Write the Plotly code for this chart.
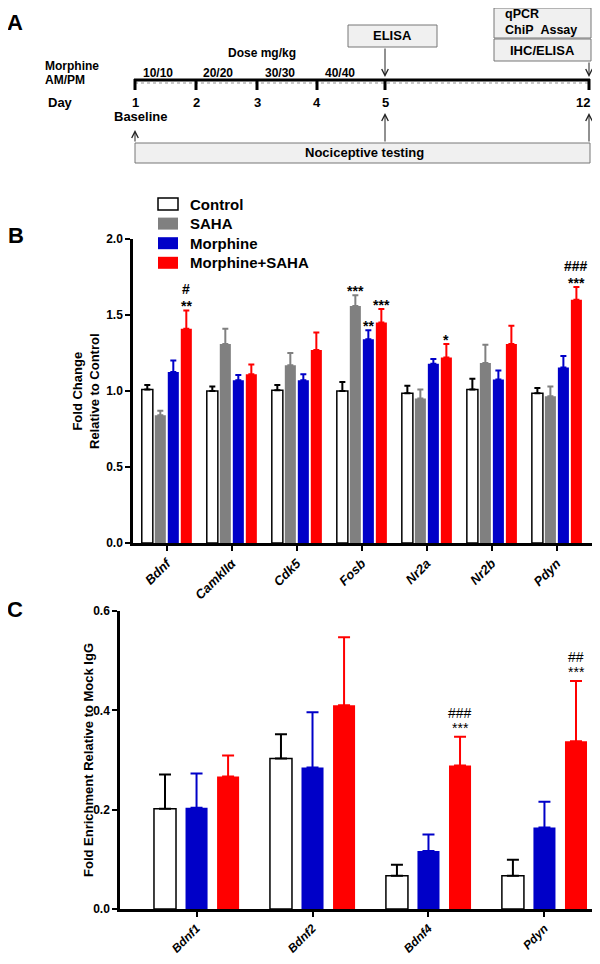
import plotly.graph_objects as go

FONT = "Arial, 'Liberation Sans', sans-serif"
# the page body keeps an 8px margin; size the figure so the page does not overflow the window
OFF = 8
W, H = 600 - 2 * OFF, 964 - 2 * OFF

# ---- panel A: schedule ----
days = ["1", "2", "3", "4", "5", "12"]
doses = ["10/10", "20/20", "30/30", "40/40"]

# ---- panel B: qPCR fold change ----
genes_b = ["Bdnf", "CamkII\u03b1", "Cdk5", "Fosb", "Nr2a", "Nr2b", "Pdyn"]
control_b = [1.01, 1.00, 1.005, 1.00, 0.985, 1.01, 0.985]
control_b_err = [0.03, 0.03, 0.035, 0.06, 0.05, 0.07, 0.035]
saha_b = [0.84, 1.31, 1.17, 1.56, 0.95, 1.185, 0.965]
saha_b_err = [0.03, 0.10, 0.08, 0.07, 0.06, 0.12, 0.065]
morph_b = [1.125, 1.07, 1.07, 1.34, 1.18, 1.075, 1.155]
morph_b_err = [0.075, 0.035, 0.04, 0.06, 0.03, 0.06, 0.075]
morphsaha_b = [1.41, 1.11, 1.27, 1.45, 1.22, 1.31, 1.60]
morphsaha_b_err = [0.12, 0.065, 0.115, 0.09, 0.09, 0.12, 0.085]

stars_saha_b = ["", "", "", "***", "", "", ""]
stars_morph_b = ["", "", "", "**", "", "", ""]
stars_morphsaha_b = ["**", "", "", "***", "*", "", "***"]
hash_morphsaha_b = ["#", "", "", "", "", "", "###"]

# ---- panel C: ChIP enrichment ----
genes_c = ["Bdnf1", "Bdnf2", "Bdnf4", "Pdyn"]
control_c = [0.202, 0.303, 0.067, 0.067]
control_c_err = [0.069, 0.049, 0.022, 0.032]
morph_c = [0.204, 0.285, 0.117, 0.164]
morph_c_err = [0.069, 0.111, 0.033, 0.052]
morphsaha_c = [0.267, 0.41, 0.289, 0.338]
morphsaha_c_err = [0.042, 0.137, 0.058, 0.121]

stars_morphsaha_c = ["", "", "***", "***"]
hash_morphsaha_c = ["", "", "###", "##"]

legend_names = ["Control", "SAHA", "Morphine", "Morphine+SAHA"]
WHITE, GRAY, BLUE, RED = "white", "#808080", "#0000C8", "#FF0000"
legend_colors = [WHITE, GRAY, BLUE, RED]


def px(x):
    return (x - OFF) / W


def py(y):
    return 1 - (y - OFF) / H


fig = go.Figure()


def add_group(xaxis, yaxis, cats, series, slot, bar, cap):
    n = len(series)
    start = -n * slot / 2
    centers = []
    for i, (name, vals, errs, color) in enumerate(series):
        off = start + i * slot + (slot - bar) / 2
        centers.append(off + bar / 2)
        outline = "black" if color == WHITE else color
        fig.add_trace(go.Bar(
            x=list(range(len(cats))), y=vals, name=name,
            xaxis=xaxis, yaxis=yaxis, width=bar, offset=off,
            marker=dict(color=color, line=dict(color=outline, width=1.5 if color == WHITE else 0)),
            error_y=dict(type="data", array=errs, arrayminus=[0] * len(errs), symmetric=False,
                         color=outline, thickness=2, width=cap),
            showlegend=False,
        ))
    return centers


series_b = [
    ("Control", control_b, control_b_err, WHITE),
    ("SAHA", saha_b, saha_b_err, GRAY),
    ("Morphine", morph_b, morph_b_err, BLUE),
    ("Morphine+SAHA", morphsaha_b, morphsaha_b_err, RED),
]
cb = add_group("x", "y", genes_b, series_b, 0.2, 0.17, 3)

series_c = [
    ("Control", control_c, control_c_err, WHITE),
    ("Morphine", morph_c, morph_c_err, BLUE),
    ("Morphine+SAHA", morphsaha_c, morphsaha_c_err, RED),
]
cc = add_group("x2", "y2", genes_c, series_c, 0.272, 0.19, 6)

ann = []


def mark(xref, yref, x, y, text, shift, bold):
    ann.append(dict(xref=xref, yref=yref, x=x, y=y, text=text, showarrow=False,
                    yanchor="bottom", yshift=shift,
                    font=dict(family=FONT, size=14, color="black",
                              weight="bold" if bold else "normal")))


for k in range(len(genes_b)):
    for labels, vals, errs, si in [(stars_saha_b, saha_b, saha_b_err, 1),
                                   (stars_morph_b, morph_b, morph_b_err, 2),
                                   (stars_morphsaha_b, morphsaha_b, morphsaha_b_err, 3)]:
        if labels[k]:
            mark("x", "y", k + cb[si], vals[k] + errs[k], labels[k], -6, True)
    if hash_morphsaha_b[k]:
        mark("x", "y", k + cb[3], morphsaha_b[k] + morphsaha_b_err[k], hash_morphsaha_b[k], 11, True)

for k in range(len(genes_c)):
    top = morphsaha_c[k] + morphsaha_c_err[k]
    if stars_morphsaha_c[k]:
        mark("x2", "y2", k + cc[2], top, stars_morphsaha_c[k], -1, False)
    if hash_morphsaha_c[k]:
        mark("x2", "y2", k + cc[2], top, hash_morphsaha_c[k], 14, False)


def txt(x, y, text, size=12, xanchor="center", bold=True, angle=0):
    ann.append(dict(xref="paper", yref="paper", x=px(x), y=py(y), text=text, showarrow=False,
                    xanchor=xanchor, yanchor="middle", textangle=angle,
                    font=dict(family=FONT, size=size, color="black",
                              weight="bold" if bold else "normal")))


def arrow(x, y_head, y_tail):
    ann.append(dict(xref="paper", yref="paper", x=px(x), y=py(y_head), ax=0, ay=y_tail - y_head,
                    text="", showarrow=True, arrowhead=5, arrowsize=1.3, arrowwidth=1,
                    arrowcolor="#222"))


shapes = []


def line(x0, y0, x1, y1, width=3, color="black", dash="solid"):
    shapes.append(dict(type="line", xref="paper", yref="paper", x0=px(x0), y0=py(y0),
                       x1=px(x1), y1=py(y1), line=dict(color=color, width=width, dash=dash)))


def box(x0, y0, x1, y1, fill="#F0F0F0", edge="#777", width=1):
    shapes.append(dict(type="rect", xref="paper", yref="paper", x0=px(x0), y0=py(y0),
                       x1=px(x1), y1=py(y1), fillcolor=fill,
                       line=dict(color=edge, width=width), layer="below"))


# panel A drawing
day_x = [135, 196, 257, 317, 385, 589]
dose_x = [158, 218, 280, 340]
line(135, 83, 589, 83, width=2, color="#C8C8C8", dash="dot")
line(134, 80, 590, 80, width=3)
for x, d in zip(day_x, days):
    line(x, 79, x, 90, width=3)
    txt(min(x, 583), 103, d, size=13)
for x, d in zip(dose_x, doses):
    txt(x, 73, d)
txt(15, 22, "A", size=22)
txt(43, 66, "Morphine", xanchor="left")
txt(43, 80, "AM/PM", xanchor="left")
txt(262, 53, "Dose mg/kg")
txt(60, 103, "Day", size=13)
txt(140, 117, "Baseline", size=13)
box(348, 25, 437, 47)
txt(392, 36, "ELISA", size=13)
box(494, 8, 591, 38)
txt(503, 14, "qPCR", size=12.5, xanchor="left")
txt(503, 30, "ChiP\u00a0\u00a0Assay", size=12.5, xanchor="left")
box(494, 39, 591, 61)
txt(542, 50, "IHC/ELISA", size=13)
box(135, 143, 590, 163)
txt(364, 153, "Nociceptive testing", size=13)
arrow(385, 77, 47)
arrow(589, 77, 61)
arrow(135, 130, 143)
arrow(385, 113, 143)
arrow(589, 113, 143)

# legend drawn as swatches + labels
for i, (name, color) in enumerate(zip(legend_names, legend_colors)):
    yc = 204 + i * 19.6
    box(158, yc - 6, 178, yc + 6, fill=color, edge="black" if color == WHITE else color,
        width=1.5 if color == WHITE else 0)
    txt(188, yc, name, size=15, xanchor="left")

# panel labels and axis titles
txt(16, 235, "B", size=22)
txt(15, 609, "C", size=22)
txt(86, 391, "Fold Change<br>Relative to Control", size=13, angle=-90)
txt(88, 760, "Fold Enrichment Relative to Mock IgG", size=13, angle=-90)

tickfont = dict(family=FONT, size=12, color="black", weight="bold")
axis_common = dict(showline=True, linecolor="black", linewidth=2.5, ticks="outside",
                   ticklen=5, tickwidth=2, tickcolor="black", showgrid=False, zeroline=False,
                   automargin=False)

fig.update_layout(
    width=W, height=H, margin=dict(l=0, r=0, t=0, b=0),
    plot_bgcolor="white", paper_bgcolor="white", barmode="overlay", showlegend=False,
    xaxis=dict(domain=[px(133), 1], anchor="y", range=[-0.52, 6.54],
               tickvals=list(range(len(genes_b))), ticktext=genes_b, tickangle=-45,
               tickfont=dict(tickfont, size=13, style="italic"), **axis_common),
    yaxis=dict(domain=[py(543), py(239)], anchor="x", range=[0, 2.0], dtick=0.5,
               tickformat=".1f", tickfont=tickfont, **axis_common),
    xaxis2=dict(domain=[px(120), 1], anchor="y2", range=[-0.66, 3.41],
                tickvals=list(range(len(genes_c))), ticktext=genes_c, tickangle=-45,
                tickfont=dict(tickfont, style="italic"), **axis_common),
    yaxis2=dict(domain=[py(909), py(611)], anchor="x2", range=[0, 0.6], dtick=0.2,
                tickformat=".1f", tickfont=tickfont, **axis_common),
    annotations=ann, shapes=shapes,
)

fig.write_html("out.html")
